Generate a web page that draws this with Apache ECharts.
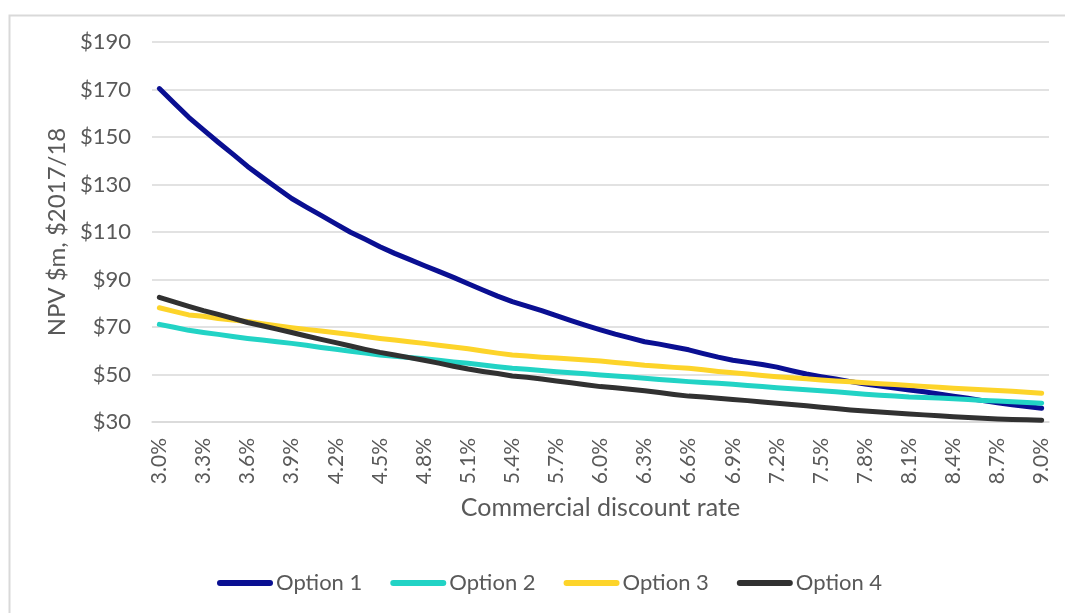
<!DOCTYPE html>
<html>
<head>
<meta charset="utf-8">
<script src="https://cdn.jsdelivr.net/npm/echarts@6/dist/echarts.min.js"></script>
<style>
  html, body { margin: 0; padding: 0; background: #ffffff; }
  #chart { width: 1065px; height: 613px; }
</style>
</head>
<body>
<div id="chart"></div>
<script>
// Commercial discount rate, 0.1% steps
const rates = [
  '3.0%','3.1%','3.2%','3.3%','3.4%','3.5%','3.6%','3.7%','3.8%','3.9%',
  '4.0%','4.1%','4.2%','4.3%','4.4%','4.5%','4.6%','4.7%','4.8%','4.9%',
  '5.0%','5.1%','5.2%','5.3%','5.4%','5.5%','5.6%','5.7%','5.8%','5.9%',
  '6.0%','6.1%','6.2%','6.3%','6.4%','6.5%','6.6%','6.7%','6.8%','6.9%',
  '7.0%','7.1%','7.2%','7.3%','7.4%','7.5%','7.6%','7.7%','7.8%','7.9%',
  '8.0%','8.1%','8.2%','8.3%','8.4%','8.5%','8.6%','8.7%','8.8%','8.9%',
  '9.0%'
];

// NPV, $m in $2017/18
const option1 = [
  170.4, 164.3, 158.3, 153.0, 147.8, 142.8, 137.6, 133.0, 128.5, 124.1,
  120.5, 117.0, 113.4, 109.9, 106.9, 103.8, 101.0, 98.5, 95.9, 93.4,
  90.9, 88.2, 85.6, 83.0, 80.7, 78.8, 76.9, 74.8, 72.7, 70.7,
  68.8, 67.0, 65.4, 63.8, 62.8, 61.6, 60.4, 58.8, 57.3, 56.0,
  55.1, 54.2, 53.1, 51.6, 50.2, 49.1, 48.1, 47.0, 46.0, 45.2,
  44.3, 43.5, 42.7, 41.8, 40.9, 40.0, 39.0, 38.1, 37.3, 36.5,
  35.8
];
const option2 = [
  71.1, 69.9, 68.6, 67.7, 66.9, 66.0, 65.2, 64.5, 63.8, 63.1,
  62.3, 61.4, 60.6, 59.8, 59.0, 58.2, 57.7, 57.2, 56.6, 56.0,
  55.3, 54.7, 54.0, 53.3, 52.6, 52.2, 51.7, 51.2, 50.7, 50.3,
  49.8, 49.4, 48.9, 48.4, 47.9, 47.5, 47.0, 46.6, 46.3, 45.9,
  45.4, 44.9, 44.4, 44.0, 43.6, 43.2, 42.7, 42.2, 41.7, 41.3,
  40.9, 40.5, 40.3, 40.1, 39.8, 39.5, 39.1, 38.8, 38.5, 38.2,
  37.9
];
const option3 = [
  78.1, 76.6, 75.1, 74.5, 73.6, 72.9, 72.3, 71.4, 70.5, 69.7,
  69.0, 68.3, 67.6, 66.8, 66.0, 65.2, 64.5, 63.8, 63.1, 62.3,
  61.6, 60.8, 59.9, 59.0, 58.2, 57.8, 57.3, 56.9, 56.5, 56.1,
  55.7, 55.1, 54.5, 53.9, 53.5, 53.0, 52.6, 52.0, 51.3, 50.7,
  50.2, 49.6, 49.1, 48.6, 48.2, 47.7, 47.3, 46.9, 46.5, 46.1,
  45.8, 45.4, 45.0, 44.6, 44.2, 43.9, 43.6, 43.3, 42.9, 42.5,
  42.1
];
const option4 = [
  82.5, 80.6, 78.7, 76.9, 75.3, 73.6, 71.9, 70.5, 69.1, 67.7,
  66.2, 64.8, 63.4, 62.0, 60.6, 59.3, 58.2, 57.1, 56.0, 54.8,
  53.5, 52.3, 51.3, 50.4, 49.4, 48.8, 48.1, 47.3, 46.5, 45.7,
  44.9, 44.4, 43.8, 43.2, 42.4, 41.6, 40.9, 40.5, 40.0, 39.5,
  39.0, 38.4, 37.9, 37.4, 36.8, 36.2, 35.7, 35.1, 34.6, 34.2,
  33.8, 33.4, 33.0, 32.6, 32.2, 31.9, 31.6, 31.3, 31.1, 30.9,
  30.7
];

const seriesNames = ['Option 1', 'Option 2', 'Option 3', 'Option 4'];
const seriesData = [option1, option2, option3, option4];
const seriesColors = ['#0a0f92', '#22d3c5', '#fdd42a', '#313131'];

const yTicks = { min: 30, max: 190, step: 20 };

const FONT = 'Lato, "Open Sans", sans-serif';
const TEXT = '#595959';
const GRID = '#d9d9d9';

// capsule-shaped legend swatch
const capsule = 'path://M3,0 L53,0 A3,3 0 0 1 53,6 L3,6 A3,3 0 0 1 3,0 Z';

const chart = echarts.init(document.getElementById('chart'), null, { renderer: 'canvas' });

chart.setOption({
  backgroundColor: '#ffffff',
  animation: false,
  textStyle: { fontFamily: FONT, color: TEXT },
  graphic: [{
    type: 'rect',
    left: 7, top: 13,
    shape: { width: 1120, height: 700 },
    style: { fill: 'none', stroke: GRID, lineWidth: 2 },
    silent: true
  }],
  grid: { left: 152, right: 16, top: 42, bottom: 191 },
  legend: {
    data: seriesNames.map(n => ({ name: n, icon: capsule })),
    left: 212,
    top: 567,
    itemWidth: 56,
    itemHeight: 6,
    itemGap: 28,
    textStyle: { fontFamily: FONT, fontSize: 22, color: TEXT, padding: [0, 0, 0, -2] }
  },
  xAxis: {
    type: 'category',
    data: rates,
    boundaryGap: true,
    name: 'Commercial discount rate',
    nameLocation: 'middle',
    nameGap: 73,
    nameTextStyle: { fontFamily: FONT, fontSize: 25, color: TEXT, verticalAlign: 'top' },
    axisLine: { show: true, lineStyle: { color: GRID, width: 1.5 } },
    axisTick: { show: false },
    axisLabel: {
      interval: 2,
      rotate: 90,
      margin: 16,
      fontFamily: FONT,
      fontSize: 21,
      color: TEXT
    },
    splitLine: { show: false }
  },
  yAxis: {
    type: 'value',
    min: yTicks.min,
    max: yTicks.max,
    interval: yTicks.step,
    name: 'NPV $m, $2017/18',
    nameLocation: 'middle',
    nameRotate: 90,
    nameGap: 81,
    nameTextStyle: { fontFamily: FONT, fontSize: 24, color: TEXT },
    axisLine: { show: false },
    axisTick: { show: false },
    axisLabel: {
      margin: 21,
      fontFamily: FONT,
      fontSize: 22,
      color: TEXT,
      formatter: v => '$' + v
    },
    splitLine: { show: true, lineStyle: { color: GRID, width: 1.5 } }
  },
  series: seriesNames.map((name, i) => ({
    name: name,
    type: 'line',
    data: seriesData[i],
    symbol: 'none',
    smooth: false,
    color: seriesColors[i],
    lineStyle: { width: 5, color: seriesColors[i], cap: 'round', join: 'round' },
    z: 2 + i
  }))
});
</script>
</body>
</html>
